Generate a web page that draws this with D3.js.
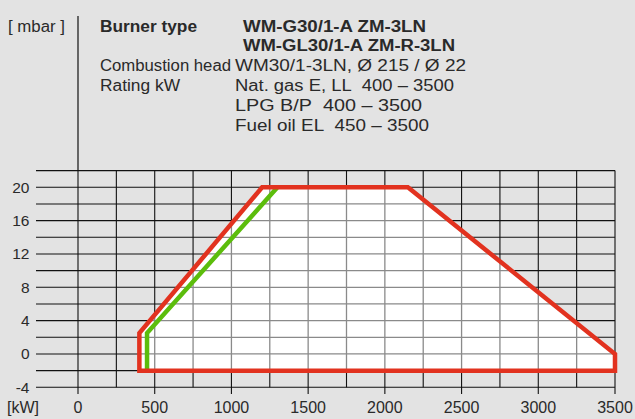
<!DOCTYPE html>
<html>
<head>
<meta charset="utf-8">
<script src="https://cdn.jsdelivr.net/npm/d3@7"></script>
<style>
  html, body { margin: 0; padding: 0; background: #e3e3e3; }
  svg { display: block; }
  text { font-family: "Liberation Sans", Arial, sans-serif; fill: #2a2a2a; }
</style>
</head>
<body>
<svg id="chart" width="635" height="419"></svg>
<script>
// ---- data ----
const redKW   = [400, 400, 1200, 2150, 3500, 3500];
const redMbar = [-2, 2.5, 20, 20, 0, -2];
const greenKW   = [450, 450, 1300];
const greenMbar = [-2, 2.5, 20];
const xTickValues = [0, 500, 1000, 1500, 2000, 2500, 3000, 3500];
const yTickValues = [-4, 0, 4, 8, 12, 16, 20];
const xGridValues = [0, 250, 500, 750, 1000, 1250, 1500, 1750, 2000, 2250, 2500, 2750, 3000, 3250, 3500];
const yGridValues = [-4, -2, 0, 2, 4, 6, 8, 10, 12, 14, 16, 18, 20, 22];
const headerLeft = [
  {t: "Burner type", bold: true, w: 97},
  {t: "", bold: true, w: 0},
  {t: "Combustion head", bold: false, w: 131},
  {t: "Rating kW", bold: false, w: 80}
];
const headerRight = [
  {t: "WM-G30/1-A ZM-3LN", bold: true, w: 183, x: 243},
  {t: "WM-GL30/1-A ZM-R-3LN", bold: true, w: 212, x: 243},
  {t: "WM30/1-3LN, Ø 215 / Ø 22", bold: false, w: 231, x: 235},
  {t: "Nat. gas E, LL\u00a0\u00a0400 – 3500", bold: false, w: 219, x: 235},
  {t: "LPG B/P\u00a0\u00a0400 – 3500", bold: false, w: 187, x: 235},
  {t: "Fuel oil EL\u00a0\u00a0450 – 3500", bold: false, w: 194, x: 235}
];

// ---- layout ----
const svg = d3.select("#chart");
const x = d3.scaleLinear().domain([0, 3500]).range([78, 615]);
const y = d3.scaleLinear().domain([-4, 22]).range([387.3, 170.6]);
const gridLeft = 36;

// background
svg.append("rect").attr("width", 635).attr("height", 419).attr("fill", "#e3e3e3");

// header vertical line (continuation of 0 kW line)
svg.append("line")
  .attr("x1", x(0)).attr("x2", x(0)).attr("y1", 16).attr("y2", y(22))
  .attr("stroke", "#111").attr("stroke-width", 1.2);

// header text
svg.append("text").attr("x", 8).attr("y", 31.5)
  .attr("font-size", 16).attr("textLength", 57).attr("lengthAdjust", "spacingAndGlyphs")
  .text("[ mbar ]");

const lineH = 19.8, base0 = 31.5;
headerLeft.forEach((d, i) => {
  if (!d.t) return;
  svg.append("text").attr("x", 100).attr("y", base0 + i * lineH)
    .attr("font-size", 16).attr("font-weight", d.bold ? "bold" : "normal")
    .attr("textLength", d.w).attr("lengthAdjust", "spacingAndGlyphs")
    .text(d.t);
});
headerRight.forEach((d, i) => {
  svg.append("text").attr("x", d.x).attr("y", base0 + i * lineH)
    .attr("font-size", 16).attr("font-weight", d.bold ? "bold" : "normal")
    .attr("textLength", d.w).attr("lengthAdjust", "spacingAndGlyphs")
    .text(d.t);
});

// grid drawing helper
function drawGrid(g, color, width) {
  g.selectAll(".h").data(yGridValues).join("line")
    .attr("x1", gridLeft).attr("x2", x(3500))
    .attr("y1", d => y(d)).attr("y2", d => y(d))
    .attr("stroke", color).attr("stroke-width", width);
  g.selectAll(".v").data(xGridValues).join("line")
    .attr("x1", d => x(d)).attr("x2", d => x(d))
    .attr("y1", y(22)).attr("y2", d => xTickValues.includes(d) ? 394 : y(-4))
    .attr("stroke", color).attr("stroke-width", width);
}

// black grid
drawGrid(svg.append("g"), "#111", 1.1);

// envelope polygon
const redPts = redKW.map((k, i) => [x(k), y(redMbar[i])]);
const greenPts = greenKW.map((k, i) => [x(k), y(greenMbar[i])]);
const polyPath = d3.line()(redPts) + "Z";

svg.append("defs").append("clipPath").attr("id", "envClip")
  .append("path").attr("d", polyPath);

svg.append("path").attr("d", polyPath).attr("fill", "#ffffff");

// grey grid inside envelope
drawGrid(svg.append("g").attr("clip-path", "url(#envClip)"), "#8a8a8a", 1.3);

// green curve
svg.append("path").attr("d", d3.line()(greenPts))
  .attr("fill", "none").attr("stroke", "#5cbd0c").attr("stroke-width", 4.5)
  .attr("stroke-linejoin", "miter");

// red envelope
svg.append("path").attr("d", polyPath)
  .attr("fill", "none").attr("stroke", "#e2321f").attr("stroke-width", 4.5)
  .attr("stroke-linejoin", "miter");

// y tick labels
svg.selectAll(".ylab").data(yTickValues).join("text")
  .attr("x", 29.5).attr("y", d => y(d) + 5.5)
  .attr("text-anchor", "end").attr("font-size", 15.5)
  .text(d => d);

// x tick labels
svg.selectAll(".xlab").data(xTickValues).join("text")
  .attr("x", d => x(d)).attr("y", 413)
  .attr("text-anchor", "middle").attr("font-size", 16)
  .text(d => d);

svg.append("text").attr("x", 7).attr("y", 413).attr("font-size", 16).text("[kW]");
</script>
</body>
</html>
